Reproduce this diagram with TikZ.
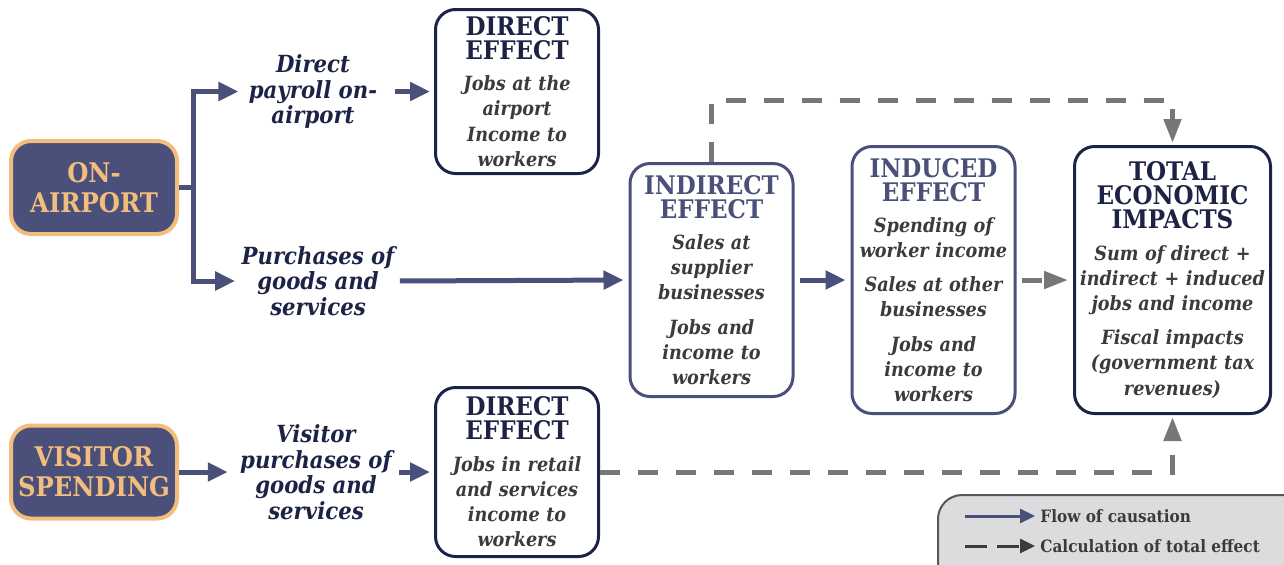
\documentclass[tikz,border=0pt]{standalone}
\usepackage{fontspec}
\setmainfont{DejaVu Serif Condensed}
\usetikzlibrary{arrows.meta,positioning}
\definecolor{slate}{HTML}{4A5079}
\definecolor{ink}{HTML}{1D2345}
\definecolor{peach}{HTML}{F3BE7D}
\definecolor{ash}{HTML}{777777}
\definecolor{lead}{HTML}{3B3B3B}
\definecolor{mist}{HTML}{DCDCDF}
\newcommand{\boxhead}[2][ink]{{\upshape\color{#1}\fontsize{12.8}{12}\selectfont #2\par}\vspace{3pt}}

\begin{document}
\begin{tikzpicture}[x=0.5pt,y=-0.5pt,
source/.style={draw=peach,fill=slate,text=peach,line width=2pt,rounded corners=10pt,
  minimum width=83pt,minimum height=46.5pt,align=center,
  font=\bfseries\fontsize{13.5}{15}\selectfont},
effect/.style={draw=ink,fill=white,line width=1.5pt,rounded corners=10pt,
  inner sep=0pt,minimum width=81.5pt,text width=81pt,align=center,text=lead,
  font=\bfseries\itshape\fontsize{9.8}{12.6}\selectfont},
cause/.style={text=ink,inner sep=0pt,align=center,
  font=\bfseries\itshape\fontsize{11.8}{12.75}\selectfont},
keytext/.style={text=lead,inner sep=0pt,anchor=west,
  font=\bfseries\fontsize{8.5}{10}\selectfont},
flow/.style={draw=slate,line width=2.5pt,-{Triangle[length=10pt,width=9pt]}},
sumline/.style={draw=ash,line width=2.5pt,dash pattern=on 10pt off 9pt,
  -{Triangle[length=12pt,width=8.5pt]}}]
\clip (0,0) rectangle (1284,564);

% sources
\node[source] (onair) at (94,187.5) {ON-\\AIRPORT};
\node[source] (visitor) at (94,472) {VISITOR\\SPENDING};

% spending channels
\node[cause] (payroll) at (313,91.5) {Direct\\payroll on-\\airport};
\node[cause] (purchases) at (318,281) {Purchases of\\goods and\\services};
\node[cause] (vispurch) at (316,472) {Visitor\\purchases of\\goods and\\services};

% effects
\node[effect,minimum height=82pt] (direct) at (517,91.5)
  {\boxhead{DIRECT\\EFFECT}Jobs at the\\airport\\Income to\\workers};
\node[effect,minimum height=84.5pt] (direct2) at (517,472)
  {\boxhead{DIRECT\\EFFECT}Jobs in retail\\and services\\income to\\workers};
\node[effect,draw=slate,minimum height=116.5pt] (indirect) at (711.5,280)
  {\boxhead[slate]{INDIRECT\\EFFECT}Sales at\\supplier\\businesses\par\vspace{4.5pt}
   Jobs and\\income to\\workers};
\node[effect,draw=slate,minimum height=133.5pt] (induced) at (933.5,280)
  {\boxhead[slate]{INDUCED\\EFFECT}Spending of\\worker income\par\vspace{4.5pt}
   Sales at other\\businesses\par\vspace{4.5pt}Jobs and\\income to\\workers};
\node[effect,minimum width=98pt,text width=97pt,minimum height=133.5pt] (total) at (1172.5,280)
  {\boxhead{TOTAL\\ECONOMIC\\IMPACTS}Sum of direct +\\indirect + induced\\jobs and income\par\vspace{4.5pt}
   Fiscal impacts\\(government tax\\revenues)};

% flow of causation
\coordinate (fork) at (193,187.5);
\draw[flow,-] (onair.east) -- (fork);
\draw[flow,shorten >=5pt] (fork) |- (payroll.west);
\draw[flow,shorten >=3pt] (fork) |- (purchases.west);
\draw[flow,shorten <=8.5pt,shorten >=2pt] (payroll.east) -- (direct.west);
\draw[flow,shorten <=2.5pt,shorten >=2.5pt] (purchases.east) -- (indirect.west);
\draw[flow,shorten >=6pt] (visitor.east) -- (vispurch.west);
\draw[flow,shorten <=3.5pt,shorten >=2pt] (vispurch.east) -- (direct2.west);
\draw[flow,shorten <=2.5pt,shorten >=2.5pt] (indirect.east) -- (induced.west);

% calculation of total effect
\draw[sumline,shorten <=2.5pt,shorten >=2.5pt] (induced.east) -- (total.west);
\draw[sumline,shorten >=1pt] (indirect.north) -- ++(0,-62) -| (total.north);
\draw[sumline,shorten >=1pt] (direct2.east) -| (total.south);

% legend
\draw[draw=lead!85,fill=mist,line width=1pt,rounded corners=12pt] (938,495) rectangle (1330,610);
\node[keytext] (flowkey) at (1040,516) {Flow of causation};
\node[keytext] (sumkey) at (1040,546) {Calculation of total effect};
\coordinate (flowkeystart) at (965,516);
\coordinate (sumkeystart) at (965,546);
\draw[flow,line width=1.5pt,-{Triangle[length=7.5pt,width=7pt]},shorten >=2.5pt] (flowkeystart) -- (flowkey.west);
\draw[draw=lead,line width=1.5pt,dash pattern=on 11pt off 5pt,
  -{Triangle[length=7.5pt,width=7pt]},shorten >=2.5pt] (sumkeystart) -- (sumkey.west);
\end{tikzpicture}
\end{document}
